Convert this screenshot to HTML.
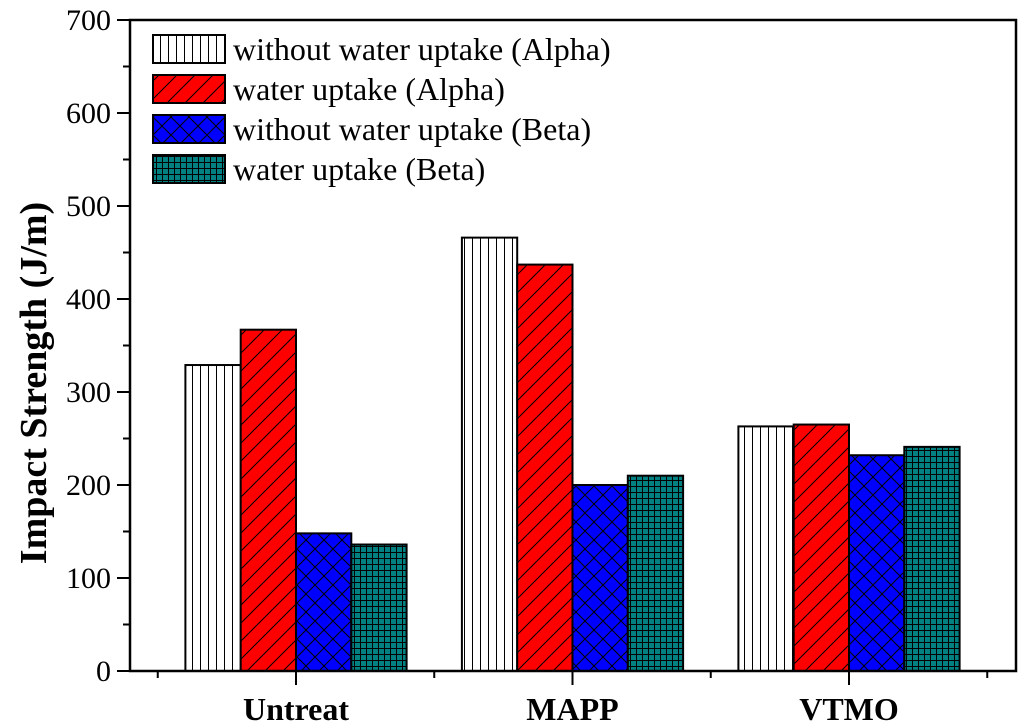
<!DOCTYPE html>
<html><head><meta charset="utf-8"><style>
html,body{margin:0;padding:0;background:#fff;}
svg{display:block;font-family:"Liberation Serif",serif;}
</style></head><body>
<svg id="chart" width="1024" height="728" viewBox="0 0 1024 728" xmlns="http://www.w3.org/2000/svg">
<defs>
<pattern id="p0" patternUnits="userSpaceOnUse" width="8" height="8"><rect width="8" height="8" fill="#fff"/><line x1="0.5" y1="0" x2="0.5" y2="8" stroke="#000" stroke-width="1"/></pattern>
<pattern id="p1" patternUnits="userSpaceOnUse" width="18" height="18"><rect width="18" height="18" fill="#ff0000"/><path d="M-2,20 L20,-2 M-2,2 L2,-2 M16,20 L20,16" stroke="#000" stroke-width="1"/></pattern>
<pattern id="p2" patternUnits="userSpaceOnUse" width="18" height="18"><rect width="18" height="18" fill="#0000ff"/><path d="M0,0 L18,18 M18,0 L0,18" stroke="#000" stroke-width="1"/></pattern>
<pattern id="p3" patternUnits="userSpaceOnUse" width="6" height="6"><rect width="6" height="6" fill="#008080"/><path d="M0.5,0 V6 M0,0.5 H6" stroke="#000" stroke-width="1"/></pattern>
</defs>
<g id="bars"></g>
<g id="axes"></g>
<g id="legend"></g>
</svg>
<script>
const categories = ["Untreat", "MAPP", "VTMO"];
const seriesNames = ["without water uptake (Alpha)", "water uptake (Alpha)", "without water uptake (Beta)", "water uptake (Beta)"];
const s0 = [329, 466, 263];
const s1 = [367, 437, 265];
const s2 = [148, 200, 232];
const s3 = [136, 210, 241];
const series = [s0, s1, s2, s3];
const yTicks = [0, 100, 200, 300, 400, 500, 600, 700];

const NS = "http://www.w3.org/2000/svg";
const L = 130, R = 1016, T = 20, B = 671;
const yMax = 700;
function y(v){ return B - v / yMax * (B - T); }
function xc(i){ return 296 + i * 276.5; }
const bw = 55.3;
function mk(tag, attrs, parent){ const e = document.createElementNS(NS, tag); for (const k in attrs) e.setAttribute(k, attrs[k]); parent.appendChild(e); return e; }

const gb = document.getElementById('bars');
series.forEach((s, si) => {
  s.forEach((v, ci) => {
    const x0 = xc(ci) + (si - 2) * bw;
    const r = mk('rect', {x: x0, y: y(v), width: bw, height: B - y(v), fill: 'url(#p' + si + ')', stroke: '#000', 'stroke-width': 2}, gb);
    
    
  });
});

const ga = document.getElementById('axes');
const frame = mk('rect', {x: L, y: T, width: R - L, height: B - T, fill: 'none', stroke: '#000', 'stroke-width': 2.5}, ga);


yTicks.forEach(t => {
  mk('line', {x1: L - 13, x2: L, y1: y(t), y2: y(t), stroke: '#000', 'stroke-width': 2}, ga);
  if (t < yMax) mk('line', {x1: L - 7, x2: L, y1: y(t + 50), y2: y(t + 50), stroke: '#000', 'stroke-width': 2}, ga);
  const tx = mk('text', {x: L - 19, y: y(t) + 10, 'text-anchor': 'end', 'font-size': 30}, ga);
  tx.textContent = t;
  
  
});
for (let i = -0.5; i <= 2.6; i += 0.5) {
  const x = xc(i);
  if (x < L || x > R) continue;
  const major = Number.isInteger(i);
  mk('line', {x1: x, x2: x, y1: B, y2: B + (major ? 14 : 7), stroke: '#000', 'stroke-width': 2}, ga);
}
categories.forEach((c, i) => {
  const tx = mk('text', {x: xc(i), y: 720, 'text-anchor': 'middle', 'font-size': 32, 'font-weight': 'bold'}, ga);
  tx.textContent = c;
  
  
});
const yt = mk('text', {x: 0, y: 0, transform: 'translate(46,383) rotate(-90)', 'text-anchor': 'middle', 'font-size': 38, 'font-weight': 'bold'}, ga);
yt.textContent = 'Impact Strength (J/m)';



const gl = document.getElementById('legend');
seriesNames.forEach((n, i) => {
  const yy = 35 + i * 40;
  const sw = mk('rect', {x: 153, y: yy, width: 72, height: 28, fill: 'url(#p' + i + ')', stroke: '#000', 'stroke-width': 2}, gl);
  
  
  const tx = mk('text', {x: 233, y: yy + 25, 'font-size': 32}, gl);
  tx.textContent = n;
  
  
});
</script>
</body></html>
